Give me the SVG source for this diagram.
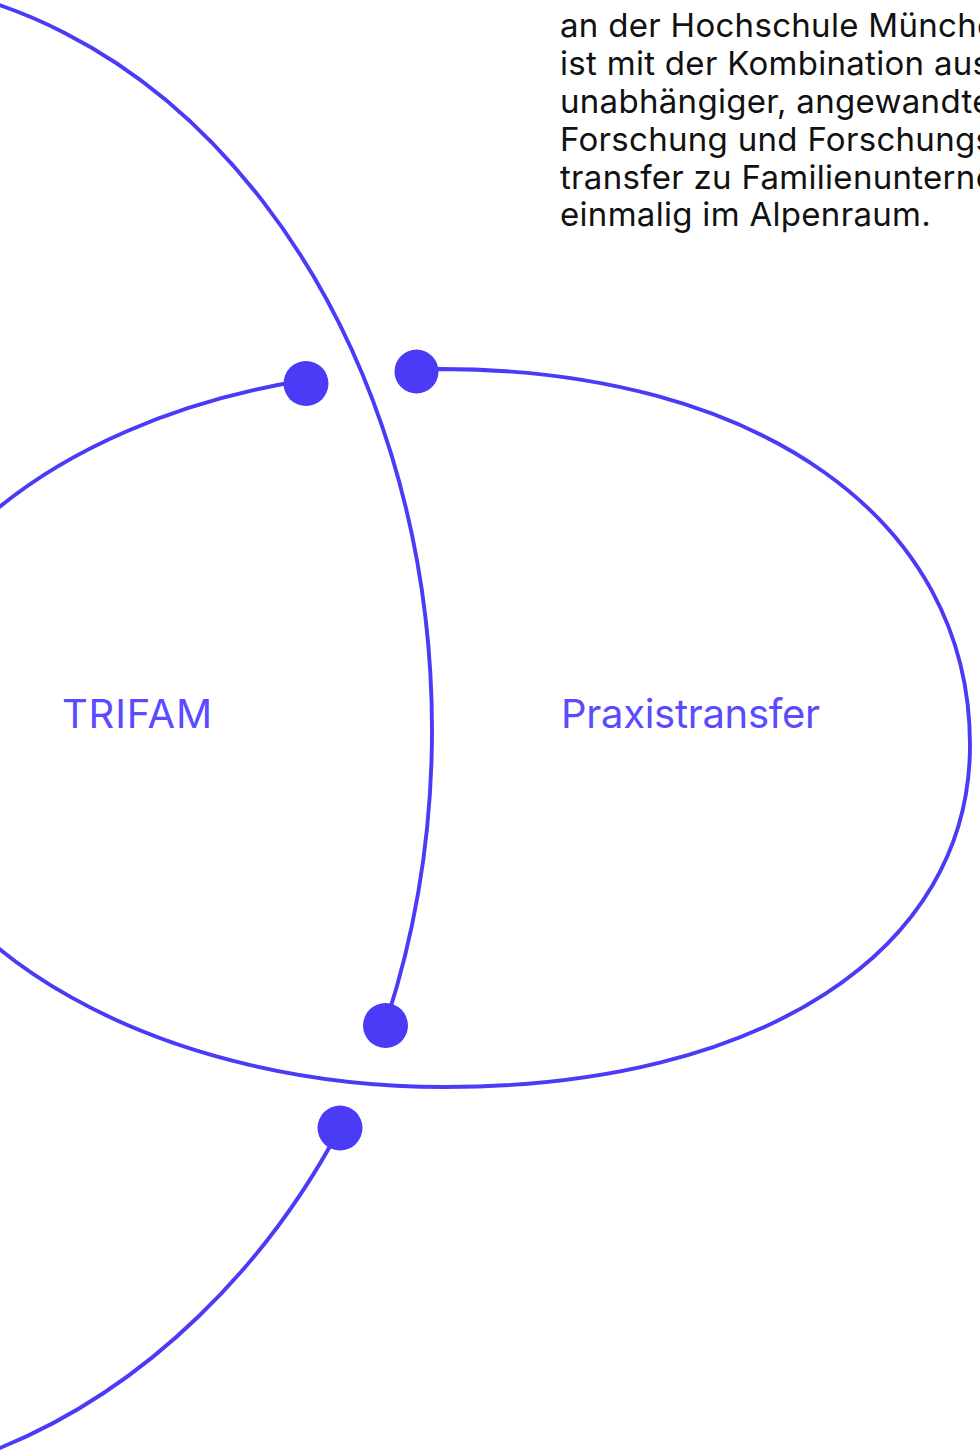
<svg xmlns="http://www.w3.org/2000/svg" width="980" height="1451" viewBox="0 0 980 1451">
  <style>
    .curve { fill: none; stroke: #4B3BF7; stroke-width: 3.9; stroke-linecap: round; }
    .dot { fill: #4B3BF7; }
    .label { font-family: Inter, "Liberation Sans", sans-serif; font-size: 40px; fill: #5A4BFF; }
    .body { font-family: Inter, "Liberation Sans", sans-serif; font-size: 33px; fill: #111111; letter-spacing: 0.3px; }
  </style>
  <rect width="980" height="1451" fill="#FFFFFF"/>

  <!-- intro paragraph, right column (runs past the right edge) -->
  <g id="intro-text">
    <text class="body" x="560" y="37">an der Hochschule Münche</text>
    <text class="body" x="560" y="75">ist mit der Kombination aus</text>
    <text class="body" x="560" y="113">unabhängiger, angewandte</text>
    <text class="body" x="560" y="151">Forschung und Forschungs</text>
    <text class="body" x="560" y="189">transfer zu Familienunterne</text>
    <text class="body" x="560" y="226">einmalig im Alpenraum.</text>
  </g>

  <!-- connectors -->
  <g id="connectors">
    <!-- large arc from top-left down to the lower dot -->
    <path class="curve" d="M -150 -20 A 582 750 0 0 1 432 730 A 582 750 0 0 1 385 1025"/>
    <!-- open loop around Praxistransfer, ends at two dots -->
    <path class="curve" d="M 306 380 A 565 359 0 0 0 445 1087 C 760 1087 970 952 970 745 C 970 519 758 369 440 369 L 420 370"/>
    <!-- lower tail -->
    <path class="curve" d="M 340 1128 C 270 1260 150 1390 -10 1452"/>
  </g>

  <!-- nodes -->
  <g id="node-trifam">
    <circle class="dot" cx="306" cy="383.5" r="22.5"/>
    <text class="label" x="62" y="728" letter-spacing="0.8">TRIFAM</text>
  </g>
  <g id="node-praxistransfer">
    <circle class="dot" cx="416.5" cy="371.5" r="22"/>
    <text class="label" x="561" y="728" letter-spacing="-0.3">Praxistransfer</text>
  </g>
  <g id="node-lower">
    <circle class="dot" cx="385.5" cy="1025.5" r="22.5"/>
  </g>
  <g id="node-bottom">
    <circle class="dot" cx="340" cy="1128" r="22.5"/>
  </g>
</svg>
